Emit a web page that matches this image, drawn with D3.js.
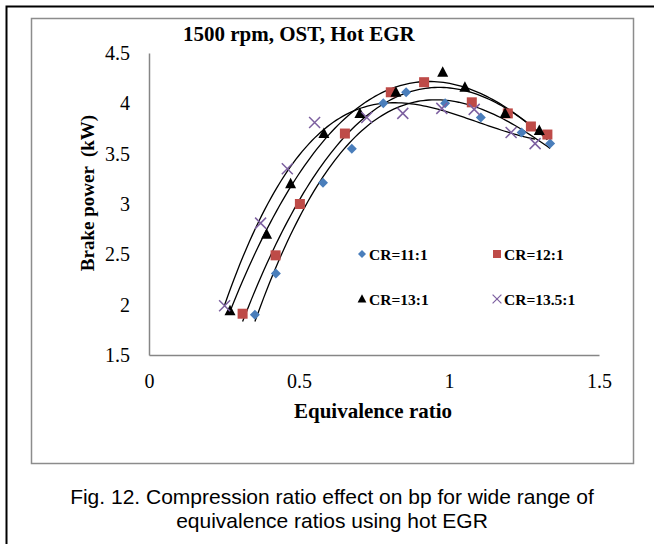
<!DOCTYPE html>
<html>
<head>
<meta charset="utf-8">
<script src="https://cdn.jsdelivr.net/npm/d3@7"></script>
<style>
body { margin: 0; background: #fff; }
svg { display: block; }
</style>
</head>
<body>
<script>
// Data.
var cr11x = [0.353, 0.423, 0.58, 0.676, 0.781, 0.857, 0.987, 1.106, 1.242, 1.337];
var cr11y = [1.90, 2.31, 3.21, 3.55, 4.00, 4.11, 4.00, 3.86, 3.71, 3.60];
var cr12x = [0.312, 0.422, 0.503, 0.653, 0.806, 0.917, 1.076, 1.196, 1.273, 1.328];
var cr12y = [1.91, 2.49, 3.00, 3.70, 4.11, 4.21, 4.01, 3.90, 3.77, 3.69];
var cr13x = [0.27, 0.392, 0.472, 0.583, 0.703, 0.823, 0.979, 1.053, 1.187, 1.301];
var cr13y = [1.94, 2.70, 3.20, 3.70, 3.90, 4.11, 4.31, 4.16, 3.90, 3.73];
var cr135x = [0.252, 0.372, 0.461, 0.552, 0.726, 0.846, 0.976, 1.084, 1.207, 1.287];
var cr135y = [1.99, 2.81, 3.35, 3.81, 3.86, 3.90, 3.95, 3.94, 3.71, 3.60];

var seriesNames = ["CR=11:1", "CR=12:1", "CR=13:1", "CR=13.5:1"];
var xTicks = [0, 0.5, 1, 1.5];
var yTicks = [1.5, 2, 2.5, 3, 3.5, 4, 4.5];

var series = [
    { name: seriesNames[0], xs: cr11x, ys: cr11y, symbol: "diamond", color: "#4a7ebb" },
    { name: seriesNames[1], xs: cr12x, ys: cr12y, symbol: "square", color: "#be4b48" },
    { name: seriesNames[2], xs: cr13x, ys: cr13y, symbol: "triangle", color: "#000000" },
    { name: seriesNames[3], xs: cr135x, ys: cr135y, symbol: "cross", color: "#7d60a0" }
];

// Least squares polynomial trendline (Excel-style) computed from the points.
function polyFit (xs, ys, deg) {
    var n = deg + 1;
    var A = [];
    for (var i = 0; i < n; i++) {
        A.push([]);
        for (var j = 0; j <= n; j++) A[i].push(0);
    }
    xs.forEach(function (x, k) {
        for (var i = 0; i < n; i++) {
            for (var j = 0; j < n; j++) A[i][j] += Math.pow(x, i + j);
            A[i][n] += ys[k] * Math.pow(x, i);
        }
    });
    for (var c = 0; c < n; c++) {
        var p = c;
        for (var r = c + 1; r < n; r++) if (Math.abs(A[r][c]) > Math.abs(A[p][c])) p = r;
        var tmp = A[c]; A[c] = A[p]; A[p] = tmp;
        for (var r2 = 0; r2 < n; r2++) {
            if (r2 === c) continue;
            var f = A[r2][c] / A[c][c];
            for (var k2 = c; k2 <= n; k2++) A[r2][k2] -= f * A[c][k2];
        }
    }
    return A.map(function (row, i) { return row[n] / row[i]; });
}

var width = 654, height = 544;
var serif = "Liberation Serif, Times New Roman, serif";

var xScale = d3.scaleLinear().domain([0, 1.5]).range([149, 599]);
var yScale = d3.scaleLinear().domain([1.5, 4.5]).range([355, 53]);

var svg = d3.select("body").append("svg")
            .attr("width", width)
            .attr("height", height);

// Outer frame (runs off the right and bottom of the picture).
svg.append("path")
   .attr("d", "M6.5,560 L6.5,6.5 L660,6.5")
   .attr("fill", "none")
   .attr("stroke", "#000")
   .attr("stroke-width", 2);

// Chart area border.
svg.append("rect")
   .attr("x", 31.5).attr("y", 18.5)
   .attr("width", 602).attr("height", 445)
   .attr("fill", "#fff")
   .attr("stroke", "#8c8c8c")
   .attr("stroke-width", 1.5);

// Axes.
var xAxis = svg.append("g")
   .attr("transform", "translate(0," + yScale(1.5) + ")")
   .call(d3.axisBottom(xScale).tickValues(xTicks).tickSize(0).tickPadding(19).tickFormat(d3.format("")));
var yAxis = svg.append("g")
   .attr("transform", "translate(" + xScale(0) + ",0)")
   .call(d3.axisLeft(yScale).tickValues(yTicks).tickSize(0).tickPadding(19).tickFormat(d3.format("")));

[xAxis, yAxis].forEach(function (a) {
    a.select(".domain").attr("stroke", "#868686").attr("stroke-width", 1.5);
    a.selectAll("text")
     .attr("font-family", serif)
     .attr("font-size", 20)
     .attr("fill", "#000");
});

// Axis titles.
svg.append("text")
   .attr("x", 373).attr("y", 418)
   .attr("text-anchor", "middle")
   .attr("font-family", serif)
   .attr("font-weight", "bold")
   .attr("font-size", 21)
   .text("Equivalence ratio");

svg.append("text")
   .attr("transform", "translate(94,193) rotate(-90)")
   .attr("text-anchor", "middle")
   .attr("font-family", serif)
   .attr("font-weight", "bold")
   .attr("font-size", 19)
   .attr("xml:space", "preserve")
   .text("Brake power  (kW)");

// Chart title.
svg.append("text")
   .attr("x", 183).attr("y", 41)
   .attr("font-family", serif)
   .attr("font-weight", "bold")
   .attr("font-size", 21)
   .text("1500 rpm, OST, Hot EGR");

// Trendlines.
var line = d3.line()
             .x(function (d) { return xScale(d[0]); })
             .y(function (d) { return yScale(d[1]); });

series.forEach(function (s) {
    var coef = polyFit(s.xs, s.ys, 3);
    var x0 = d3.min(s.xs), x1 = d3.max(s.xs);
    var pts = d3.range(0, 101).map(function (i) {
        var x = x0 + (x1 - x0) * i / 100;
        var y = 0;
        coef.forEach(function (c, p) { y += c * Math.pow(x, p); });
        return [x, y];
    });
    svg.append("path")
       .attr("class", "trend")
       .attr("d", line(pts))
       .attr("fill", "none")
       .attr("stroke", "#000")
       .attr("stroke-width", 1.3);
});

// Markers.
function drawMarker (g, symbol, color) {
    if (symbol === "diamond") {
        g.append("path").attr("d", "M0,-5 L5,0 L0,5 L-5,0 Z").attr("fill", color);
    } else if (symbol === "square") {
        g.append("rect").attr("x", -5).attr("y", -5).attr("width", 10).attr("height", 10).attr("fill", color);
    } else if (symbol === "triangle") {
        g.append("path").attr("d", "M0,-6 L5.5,4.5 L-5.5,4.5 Z").attr("fill", color);
    } else {
        g.append("path").attr("d", "M-5.5,-5.5 L5.5,5.5 M-5.5,5.5 L5.5,-5.5").attr("stroke", color).attr("stroke-width", 1.5).attr("fill", "none");
    }
}

series.forEach(function (s) {
    var pts = s.xs.map(function (x, i) { return [x, s.ys[i]]; });
    svg.append("g").attr("class", "points")
       .selectAll("g")
       .data(pts)
       .enter()
       .append("g")
       .attr("transform", function (d) { return "translate(" + xScale(d[0]) + "," + yScale(d[1]) + ")"; })
       .each(function () { drawMarker(d3.select(this), s.symbol, s.color); });
});

// Legend, two columns by two rows.
var legend = svg.append("g").attr("class", "legend");
series.forEach(function (s, i) {
    var lx = 362 + (i % 2) * 135;
    var ly = 254 + Math.floor(i / 2) * 45;
    var item = legend.append("g").attr("transform", "translate(" + lx + "," + ly + ")");
    var m = item.append("g").attr("transform", "scale(0.8)");
    drawMarker(m, s.symbol, s.color);
    item.append("text")
        .attr("x", 7).attr("y", 5.5)
        .attr("font-family", serif)
        .attr("font-weight", "bold")
        .attr("font-size", 15.5)
        .text(s.name);
});

// Caption.
var caption = ["Fig. 12. Compression ratio effect on bp for wide range of",
               "equivalence ratios using hot EGR"];
svg.append("g").selectAll("text")
   .data(caption)
   .enter()
   .append("text")
   .attr("x", 332)
   .attr("y", function (d, i) { return 504 + i * 24; })
   .attr("text-anchor", "middle")
   .attr("font-family", "Liberation Sans, Arial, sans-serif")
   .attr("font-size", 21)
   .attr("fill", "#000")
   .text(function (d) { return d; });
</script>
</body>
</html>
